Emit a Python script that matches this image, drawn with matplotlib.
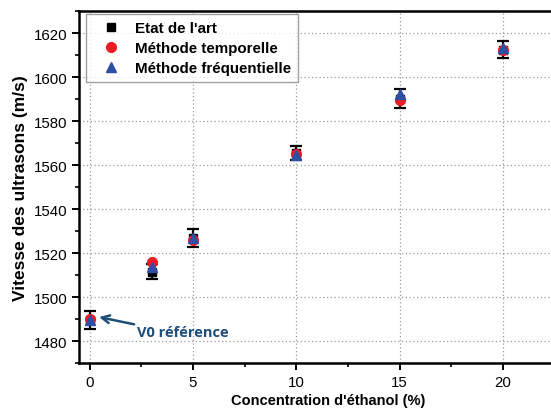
import numpy as np
import matplotlib.pyplot as plt
from matplotlib.lines import Line2D
from matplotlib.ticker import MultipleLocator

# Concentration d'éthanol (%)
concentration = [0, 3, 5, 10, 15, 20]

# Vitesse mesurée (m/s) pour chaque méthode
v_etat_art = [1489.5, 1511.5, 1526.7, 1565.5, 1590.2, 1612.5]
err_etat_art = [4.0, 3.5, 4.0, 3.2, 4.2, 4.0]
v_temporelle = [1490.0, 1515.8, 1525.8, 1564.8, 1589.7, 1612.5]
v_frequentielle = [1489.5, 1513.5, 1526.7, 1564.5, 1592.3, 1613.0]

plt.rcParams['font.family'] = ['Liberation Sans', 'DejaVu Sans']

fig = plt.figure(figsize=(5.51, 4.10), dpi=100)
ax = fig.add_axes([0.1434, 0.111, 0.904, 0.8597])

ax.errorbar(concentration, v_etat_art, yerr=err_etat_art, fmt='s', color='black',
            markersize=6, ecolor='black', elinewidth=1.6, capsize=4, capthick=1.6,
            zorder=3)
ax.plot(concentration, v_temporelle, 'o', color='#ec1c24', markersize=7,
        linestyle='none', zorder=4)
ax.plot(concentration, v_frequentielle, '^', color='#2e4fa3', markersize=7.5,
        linestyle='none', zorder=5)

ax.set_xlim(-0.52, 23.6)
ax.set_ylim(1469.8, 1630)
ax.set_xticks([0, 5, 10, 15, 20])
ax.set_yticks(np.arange(1480, 1621, 20))
ax.xaxis.set_minor_locator(MultipleLocator(2.5))
ax.yaxis.set_minor_locator(MultipleLocator(10))
ax.tick_params(which='major', direction='out', length=5, width=1.4, labelsize=10.8)
ax.tick_params(which='minor', direction='out', length=3, width=1.2)

ax.grid(True, which='major', color='#9a9a9a', linestyle=(0, (1, 2)), linewidth=0.9)
ax.set_axisbelow(True)

for side in ['left', 'bottom', 'top']:
    ax.spines[side].set_linewidth(1.8)
ax.spines['right'].set_visible(False)

ax.set_xlabel("Concentration d'éthanol (%)", fontsize=10.5, fontweight='bold', labelpad=3)
ax.set_ylabel('Vitesse des ultrasons (m/s)', fontsize=12.5, fontweight='bold', labelpad=4)

handles = [
    Line2D([], [], marker='s', color='black', markersize=6, linestyle='none'),
    Line2D([], [], marker='o', color='#ec1c24', markersize=7, linestyle='none'),
    Line2D([], [], marker='^', color='#2e4fa3', markersize=7.5, linestyle='none'),
]
labels = ["Etat de l'art", 'Méthode temporelle', 'Méthode fréquentielle']
leg = ax.legend(handles, labels, loc='upper left', bbox_to_anchor=(0.014, 0.9915),
                borderaxespad=0, frameon=True, fancybox=False, edgecolor='#888888',
                prop={'weight': 'bold', 'size': 10.9},
                handletextpad=0.4, borderpad=0.45, labelspacing=0.4, handlelength=2.4)
leg.get_frame().set_linewidth(1.0)

# flèche vers le point de référence
ax.annotate('', xy=(0.45, 1490.9), xytext=(2.15, 1487.6),
            arrowprops=dict(arrowstyle='->', color='#1f4e79', lw=1.8,
                            shrinkA=0, shrinkB=0, mutation_scale=14))
ax.text(2.29, 1484.2, 'V0 référence', fontsize=10.5, fontweight='bold', color='#1f4e79',
        family=['Open Sans', 'DejaVu Sans'], va='center', ha='left')

fig.savefig('out.png', dpi=100)
